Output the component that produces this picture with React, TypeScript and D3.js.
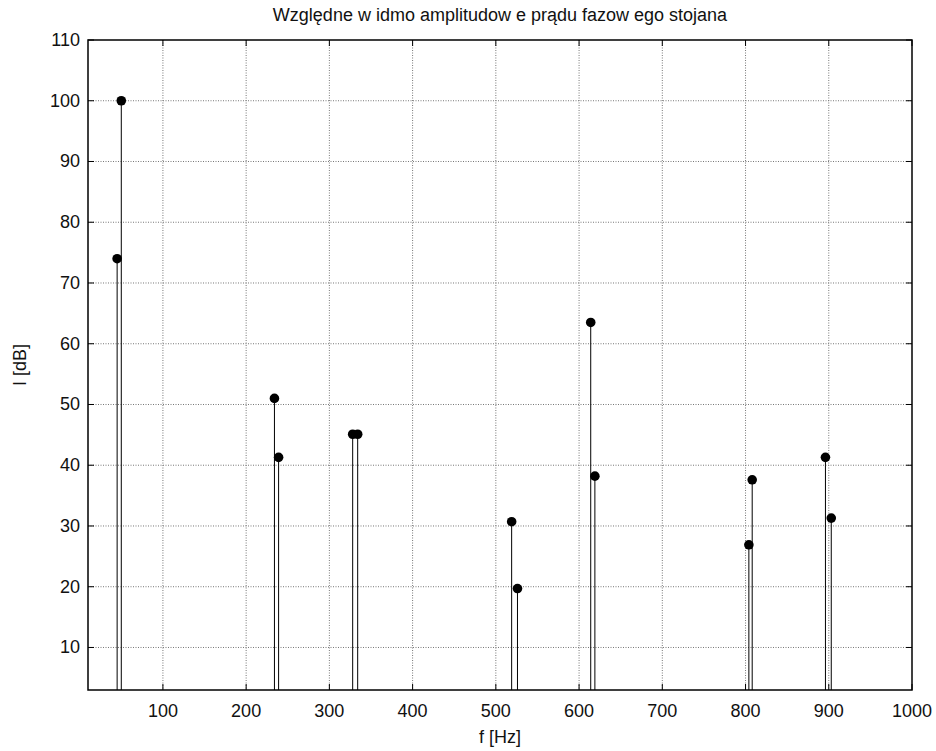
import React from "react";
import * as d3 from "d3";

// Spectrum lines: frequency [Hz] and relative amplitude [dB]
const frequencies = [45, 50, 234, 239, 328, 334, 519, 526, 614, 619, 804, 808, 896, 903];
const amplitudes = [74, 100, 51, 41.3, 45.1, 45.1, 30.7, 19.7, 63.5, 38.2, 26.9, 37.6, 41.3, 31.3];

const xTicks = [100, 200, 300, 400, 500, 600, 700, 800, 900, 1000];
const yTicks = [10, 20, 30, 40, 50, 60, 70, 80, 90, 100, 110];
const xDomain = [10, 1000];
const yDomain = [3, 110];

const titleText = "Względne w idmo amplitudow e prądu fazow ego stojana";
const xLabel = "f [Hz]";
const yLabel = "I [dB]";

const W = 936;
const H = 751;
const plot = { left: 88, top: 40, right: 912, bottom: 690 };
const font = "'Liberation Sans', Arial, Helvetica, sans-serif";

export default function App() {
  const x = d3.scaleLinear().domain(xDomain).range([plot.left, plot.right]);
  const y = d3.scaleLinear().domain(yDomain).range([plot.bottom, plot.top]);
  const tickLen = 6;
  const points = frequencies.map((f, i) => ({ f, a: amplitudes[i] }));

  return (
    <svg
      width={W}
      height={H}
      style={{ position: "absolute", left: 0, top: 0, background: "#fff" }}
      fontFamily={font}
    >
      <rect x={0} y={0} width={W} height={H} fill="#fff" />
      <defs>
        <clipPath id="plot-area">
          <rect x={plot.left} y={plot.top} width={plot.right - plot.left} height={plot.bottom - plot.top} />
        </clipPath>
      </defs>

      {/* dotted grid */}
      <g stroke="#777" strokeWidth={1} strokeDasharray="1,1.5">
        {xTicks.filter((t) => t < xDomain[1]).map((t) => (
          <line key={"gx" + t} x1={x(t)} x2={x(t)} y1={plot.top} y2={plot.bottom} />
        ))}
        {yTicks.filter((t) => t < yDomain[1]).map((t) => (
          <line key={"gy" + t} x1={plot.left} x2={plot.right} y1={y(t)} y2={y(t)} />
        ))}
      </g>

      {/* stems and markers */}
      <g clipPath="url(#plot-area)">
        {points.map((p, i) => (
          <line
            key={"s" + i}
            x1={x(p.f)}
            x2={x(p.f)}
            y1={y(0)}
            y2={y(p.a)}
            stroke="#000"
            strokeWidth={1}
          />
        ))}
      </g>
      {points.map((p, i) => (
        <circle key={"m" + i} cx={x(p.f)} cy={y(p.a)} r={4.8} fill="#000" />
      ))}

      {/* inward ticks on all four sides */}
      <g stroke="#000" strokeWidth={1}>
        {xTicks.map((t) => (
          <g key={"tx" + t}>
            <line x1={x(t)} x2={x(t)} y1={plot.bottom} y2={plot.bottom - tickLen} />
            <line x1={x(t)} x2={x(t)} y1={plot.top} y2={plot.top + tickLen} />
          </g>
        ))}
        {yTicks.map((t) => (
          <g key={"ty" + t}>
            <line x1={plot.left} x2={plot.left + tickLen} y1={y(t)} y2={y(t)} />
            <line x1={plot.right} x2={plot.right - tickLen} y1={y(t)} y2={y(t)} />
          </g>
        ))}
      </g>

      {/* axes box */}
      <rect
        x={plot.left}
        y={plot.top}
        width={plot.right - plot.left}
        height={plot.bottom - plot.top}
        fill="none"
        stroke="#000"
        strokeWidth={1.5}
      />

      {/* tick labels */}
      <g fontSize={18} fill="#111">
        {xTicks.map((t) => (
          <text key={"lx" + t} x={x(t)} y={717} textAnchor="middle">
            {t}
          </text>
        ))}
        {yTicks.map((t) => (
          <text key={"ly" + t} x={80} y={y(t)} textAnchor="end" dominantBaseline="central">
            {t}
          </text>
        ))}
      </g>

      <text x={(plot.left + plot.right) / 2} y={743} textAnchor="middle" fontSize={18} fill="#111">
        {xLabel}
      </text>
      <text
        transform={`translate(26, ${(plot.top + plot.bottom) / 2}) rotate(-90)`}
        textAnchor="middle"
        fontSize={18}
        fill="#111"
      >
        {yLabel}
      </text>
      <text x={500} y={21} textAnchor="middle" fontSize={18} fill="#111">
        {titleText}
      </text>
    </svg>
  );
}
